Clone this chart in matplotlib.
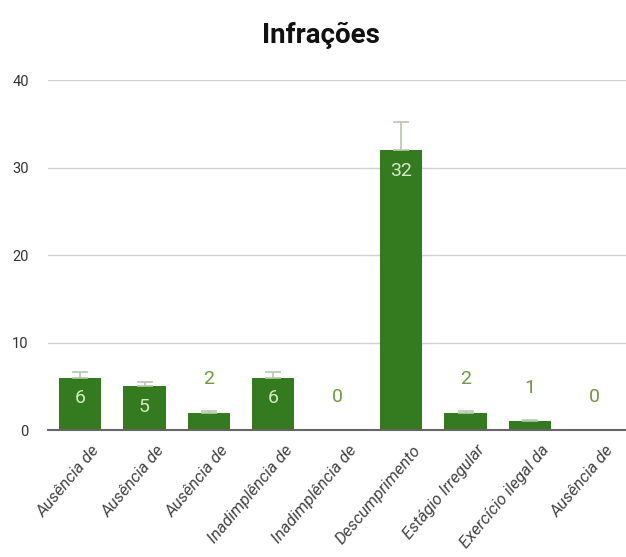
import matplotlib
matplotlib.use("Agg")
import matplotlib.pyplot as plt
import matplotlib.transforms as mtrans
import numpy as np

categories = ["Ausência de", "Ausência de", "Ausência de", "Inadimplência de",
              "Inadimplência de", "Descumprimento", "Estágio Irregular",
              "Exercício ilegal da", "Ausência de"]
values = [6, 5, 2, 6, 0, 32, 2, 1, 0]
errors = [0.6, 0.5, 0.2, 0.6, 0.0, 3.2, 0.2, 0.1, 0.0]
yticks = [0, 10, 20, 30, 40]

cond = ['Roboto', 'DejaVu Sans']

fig = plt.figure(figsize=(6.26, 5.57), dpi=100)
ax = fig.add_axes([0.077, 0.228, 0.923, 0.628])
x = np.arange(len(values))
bars = ax.bar(x, values, width=0.66, color="#347a1e", zorder=3)
ax.errorbar(x, values, yerr=[[0]*len(values), errors], fmt="none",
            ecolor="#b5c9a8", elinewidth=1.2, capsize=6, capthick=1.2, zorder=4)
ax.set_xlim(-0.5, 8.5)
ax.set_ylim(0, 40)
ax.set_yticks(yticks)
ax.set_yticklabels([str(t) for t in yticks], fontsize=10.5, color="#333333", family=cond)
ax.tick_params(axis='y', length=0, pad=14)
ax.tick_params(axis='x', length=0, pad=9)
ax.grid(axis='y', color="#d0d0d0", linewidth=1, zorder=0)
for s in ["top", "right", "left"]:
    ax.spines[s].set_visible(False)
ax.spines["bottom"].set_color("#666666")
ax.spines["bottom"].set_linewidth(1.5)
ax.spines["bottom"].set_zorder(5)
ax.set_xticks(x)
ax.set_xticklabels(categories, rotation=50, ha='right', rotation_mode='anchor',
                   fontsize=12, style='italic', color="#444444", family=cond)
shift = mtrans.ScaledTranslation(8/72, 0, fig.dpi_scale_trans)
for lab in ax.get_xticklabels():
    lab.set_transform(lab.get_transform() + shift)

for xi, v in zip(x, values):
    if v >= 5:
        ax.annotate(str(v), (xi, v), xytext=(0, -15), textcoords='offset points',
                    ha='center', va='center', color="#d6e9c6", fontsize=14, family=cond)
    else:
        ax.annotate(str(v), (xi, v), xytext=(0, 24), textcoords='offset points',
                    ha='center', va='center', color="#6b9b3f", fontsize=14, family=cond)

fig.suptitle("Infrações", x=0.513, y=0.96, fontsize=20, fontweight='bold', family=cond, color="#111111")
fig.savefig("out.png", dpi=100)
